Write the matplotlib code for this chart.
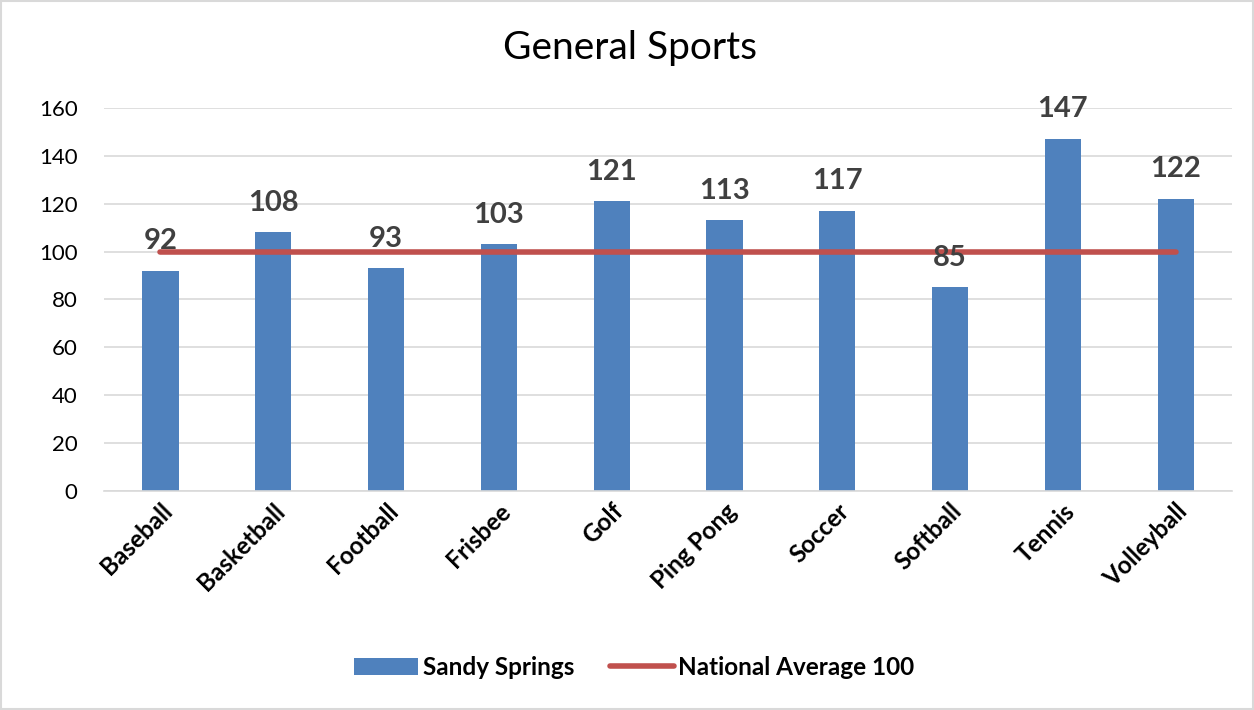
import matplotlib.pyplot as plt
import numpy as np

plt.rcParams['font.family'] = ['Lato', 'DejaVu Sans']

sports = ["Baseball", "Basketball", "Football", "Frisbee", "Golf",
          "Ping Pong", "Soccer", "Softball", "Tennis", "Volleyball"]
sandy_springs = [92, 108, 93, 103, 121, 113, 117, 85, 147, 122]
national_avg = [100] * len(sports)

fig = plt.figure(figsize=(12.54, 7.1), dpi=100)
ax = fig.add_axes([0.083, 0.3085, 0.8995, 0.5395])

x = np.arange(len(sports))
bars = ax.bar(x, sandy_springs, width=0.32, color="#4F81BD", label="Sandy Springs", zorder=2)
line, = ax.plot(x, national_avg, color="#C0504D", linewidth=4, solid_capstyle="round",
                label="National Average 100", zorder=3)

# value labels above each bar
for xi, v in zip(x, sandy_springs):
    ax.annotate(str(v), (xi, v), xytext=(0, 12), textcoords="offset points",
                ha="center", va="bottom", fontsize=21, fontweight="bold",
                color="#404040", zorder=4)

ax.set_xlim(-0.5, len(sports) - 0.5)
ax.set_ylim(0, 160)
ax.set_yticks(range(0, 161, 20))
ax.yaxis.grid(True, color="#D9D9D9", linewidth=1.2, zorder=0)
ax.set_axisbelow(True)
ax.set_xticks(x)
ax.set_xticklabels(sports, rotation=45, ha="right", rotation_mode="anchor",
                   fontsize=17.5, fontweight="bold")
ax.tick_params(axis="y", labelsize=16, length=0, pad=19)
ax.tick_params(axis="x", length=0, pad=6)
for side in ["top", "right", "left"]:
    ax.spines[side].set_visible(False)
ax.spines["bottom"].set_color("#D9D9D9")
ax.spines["bottom"].set_linewidth(1.2)

fig.text(0.502, 0.932, "General Sports", ha="center", va="center", fontsize=28)

leg = fig.legend([bars, line], ["Sandy Springs", "National Average 100"],
                 loc="center", bbox_to_anchor=(0.506, 0.06), ncol=2, frameon=False,
                 prop={"size": 17.5, "weight": "bold"}, handlelength=2.6,
                 columnspacing=1.5, handletextpad=0.2)

# light chart-area border
border = plt.Rectangle((0.001, 0.001), 0.998, 0.998, transform=fig.transFigure,
                       fill=False, edgecolor="#D9D9D9", linewidth=1.5)
fig.patches.append(border)

fig.savefig("out.png", dpi=100)
